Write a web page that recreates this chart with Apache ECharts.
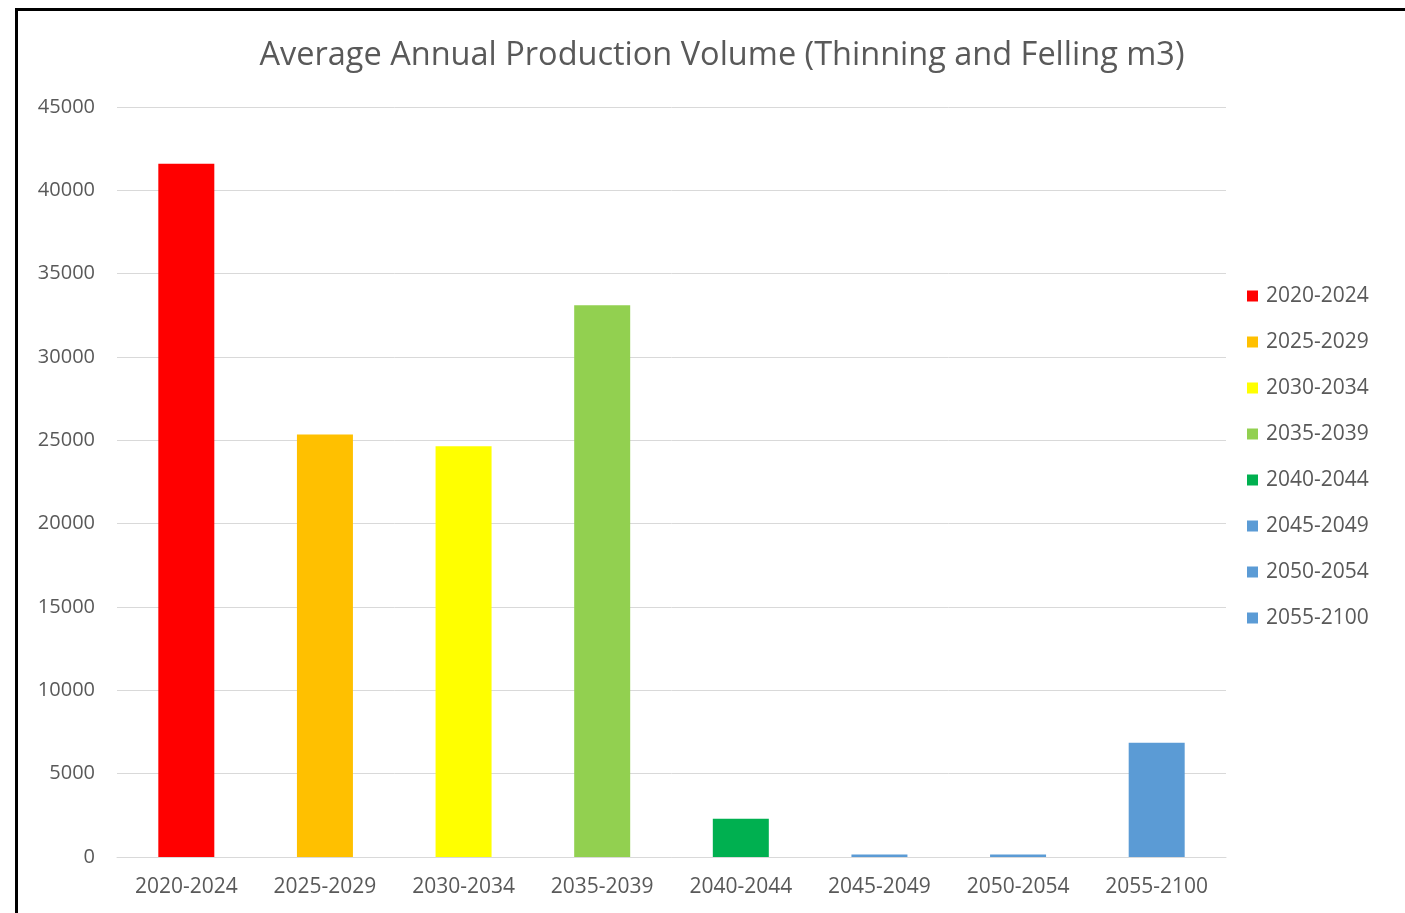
<!DOCTYPE html>
<html>
<head>
<meta charset="utf-8">
<script src="https://cdn.jsdelivr.net/npm/echarts@6/dist/echarts.min.js"></script>
<style>
    html, body { margin: 0; padding: 0; background: #fff; overflow: hidden; }
    .frame { position: absolute; left: 15px; top: 8px; width: 1500px; height: 1000px; border: 3px solid #000; }
    #main { position: absolute; left: 0; top: 0; width: 1405px; height: 913px; }
</style>
</head>
<body>
<div class="frame"></div>
<div id="main"></div>
<script>
    // periods (x categories)
    var categories = ['2020-2024', '2025-2029', '2030-2034', '2035-2039', '2040-2044', '2045-2049', '2050-2054', '2055-2100'];
    // average annual production volume, m3
    var volumes = [41600, 25350, 24650, 33100, 2300, 150, 150, 6850];
    var barColors = ['#FF0000', '#FFC000', '#FFFF00', '#92D050', '#00B050', '#5B9BD5', '#5B9BD5', '#5B9BD5'];

    var font = 'Open Sans';
    var textColor = '#595959';

    // one series per period so the legend lists each period
    var series = categories.map(function (name, i) {
        var data = categories.map(function (c, j) { return j === i ? volumes[i] : null; });
        return {
            name: name,
            type: 'bar',
            stack: 'all',
            barWidth: 56,
            itemStyle: { color: barColors[i] },
            data: data
        };
    });

    var chart = echarts.init(document.getElementById('main'));
    chart.setOption({
        animation: false,
        title: {
            text: 'Average Annual Production Volume (Thinning and Felling m3)',
            left: 717,
            textAlign: 'center',
            top: 34,
            textStyle: { fontFamily: font, fontSize: 32.5, fontWeight: 'normal', color: textColor }
        },
        legend: {
            orient: 'vertical',
            left: 1242,
            top: 280,
            itemWidth: 11,
            itemHeight: 11,
            itemGap: 24,
            icon: 'rect',
            textStyle: { fontFamily: font, fontSize: 21, lineHeight: 22, color: textColor, padding: [0, 0, 0, 3] },
            data: categories
        },
        grid: { left: 117, right: 179, top: 107, bottom: 56 },
        xAxis: {
            type: 'category',
            data: categories,
            axisLine: { lineStyle: { color: '#D9D9D9' } },
            axisTick: { show: false },
            axisLabel: { fontFamily: font, fontSize: 21, color: textColor, margin: 20, interval: 0 }
        },
        yAxis: {
            type: 'value',
            min: 0,
            max: 45000,
            interval: 5000,
            axisLine: { show: false },
            axisTick: { show: false },
            axisLabel: {
                fontFamily: font, fontSize: 20, color: textColor, margin: 22,
                formatter: function (v) { return String(v); }
            },
            splitLine: { lineStyle: { color: '#D9D9D9' } }
        },
        series: series
    });
</script>
</body>
</html>
